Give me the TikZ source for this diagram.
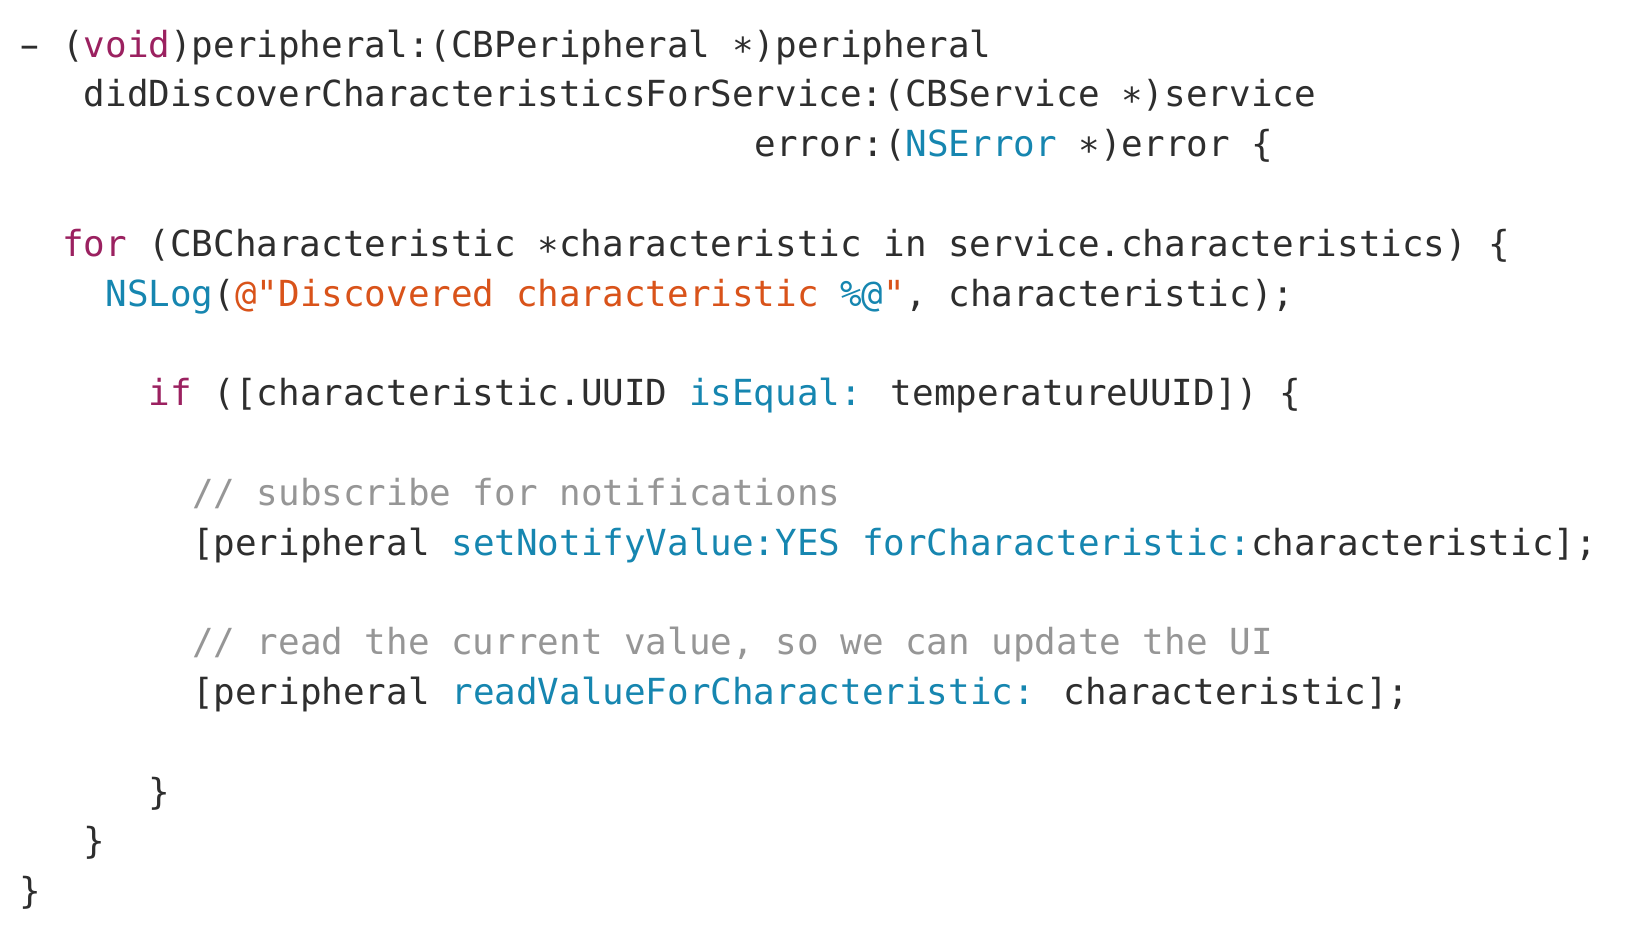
\documentclass[tikz,border=0pt]{standalone}
\usepackage{fontspec}
\usepackage{xcolor}
\usepackage{graphicx}
\newfontfamily\codefont{DejaVu Sans Mono}
\definecolor{txt}{RGB}{46,46,46}
\definecolor{kwc}{RGB}{155,33,96}
\definecolor{bluec}{RGB}{22,134,176}
\definecolor{strc}{RGB}{217,83,26}
\definecolor{cmtc}{RGB}{150,150,150}
\newcommand\ckw[1]{\textcolor{kwc}{#1}}
\newcommand\cbl[1]{\textcolor{bluec}{#1}}
\newcommand\cst[1]{\textcolor{strc}{#1}}
\newcommand\cast{\raisebox{-0.19em}{*}}
\newcommand\cdash{\makebox[0.602em][c]{\scalebox{1.7}[1]{-}}}
\newcommand\codeln[4]{\node[codetxt] (#1) at ({(9.5+10.815*#2)*1pt},{-(28.5+24.9*(#3-1))*1pt}) {#4};}
\begin{document}
\begin{tikzpicture}[
  codetxt/.style={anchor=base west, inner sep=0pt, outer sep=0pt, text=txt,
    font=\codefont\fontsize{17.95pt}{24.9pt}\selectfont},
  cmt/.style={codetxt, text=cmtc}
]
\useasboundingbox[fill=white] (0,0) rectangle (816pt,-467pt);
\codeln{l1}{0}{1}{\cdash{} (\ckw{void})peripheral:(CBPeripheral \cast)peripheral}
\codeln{l2}{3}{2}{didDiscoverCharacteristicsForService:(CBService \cast)service}
\codeln{l3}{34}{3}{error:(\cbl{NSError} \cast)error \{}
\codeln{l5}{2}{5}{\ckw{for} (CBCharacteristic \cast characteristic in service.characteristics) \{}
\codeln{l6}{4}{6}{\cbl{NSLog}(\cst{@"Discovered characteristic }\cbl{\%@}\cst{"}, characteristic);}
\codeln{l8}{6}{8}{\ckw{if} ([characteristic.UUID \cbl{isEqual:} temperatureUUID]) \{}
\node[cmt] (l10) at ({(9.5+10.815*8)*1pt},{-(28.5+24.9*9)*1pt}) {// subscribe for notifications};
\codeln{l11}{8}{11}{[peripheral \cbl{setNotifyValue:YES forCharacteristic:}characteristic];}
\node[cmt] (l13) at ({(9.5+10.815*8)*1pt},{-(28.5+24.9*12)*1pt}) {// read the current value, so we can update the UI};
\codeln{l14}{8}{14}{[peripheral \cbl{readValueForCharacteristic:} characteristic];}
\codeln{l16}{6}{16}{\}}
\codeln{l17}{3}{17}{\}}
\codeln{l18}{0}{18}{\}}
\end{tikzpicture}
\end{document}
